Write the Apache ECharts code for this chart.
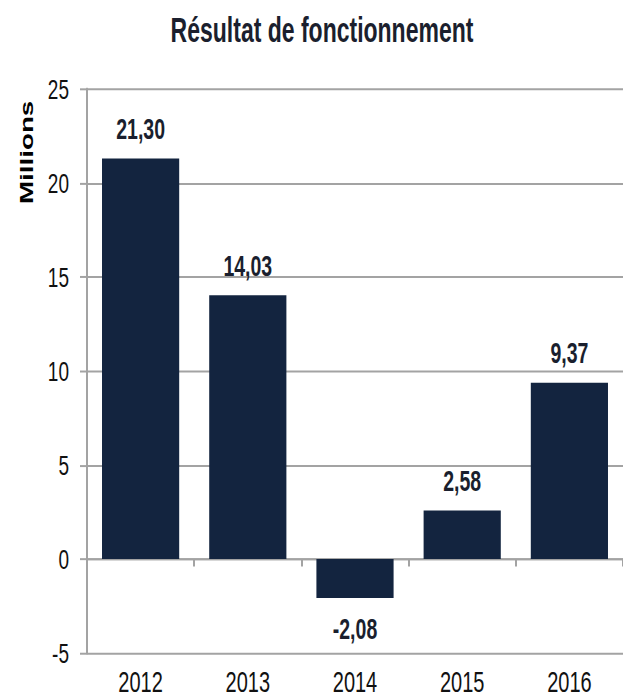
<!DOCTYPE html>
<html><head><meta charset="utf-8">
<script src="https://cdn.jsdelivr.net/npm/echarts@6/dist/echarts.min.js"></script>
<style>
html,body{margin:0;padding:0;background:#fff;overflow:hidden}
#wrap{width:623px;height:698px;overflow:hidden}
#c{width:623px;height:465px;transform-origin:0 0;transform:scaleY(1.50108)}
</style>
</head><body><div id="wrap"><div id="c"></div></div>
<script>
const categories = ['2012','2013','2014','2015','2016'];
const values = [21.30, 14.03, -2.08, 2.58, 9.37];
const yMin = -5, yMax = 25, yInterval = 5;
const titleText = 'Résultat de fonctionnement';
const yName = 'Millions';

const FONT = '"Liberation Sans", Arial, sans-serif';
const GRID = '#a3a3a3';
const chart = echarts.init(document.getElementById('c'), null, {renderer: 'svg'});
chart.setOption({
  backgroundColor: '#fff',
  animation: false,
  title: {text: titleText, left: 317, top: 3.5, textAlign: 'center',
    textStyle: {fontFamily: FONT, fontSize: 23, fontWeight: 'bold', color: '#1b1f2e'}},
  graphic: [{type: 'text', x: 27, y: 101.5, rotation: Math.PI / 2,
    style: {text: yName, fontFamily: FONT, fontSize: 18.5, fontWeight: 'bold', fill: '#000',
      textAlign: 'center', textVerticalAlign: 'middle'}}],
  grid: {left: 87, top: 59.3, bottom: 30, right: -4, containLabel: false},
  xAxis: [
    {type: 'category', data: categories, position: 'bottom',
      axisLine: {onZero: true, lineStyle: {color: GRID, width: 1.33}},
      axisTick: {show: true, length: 5, lineStyle: {color: GRID, width: 2}},
      axisLabel: {show: false}},
    {type: 'category', data: categories, position: 'bottom',
      axisLine: {show: false, onZero: false}, axisTick: {show: false},
      axisLabel: {margin: 9, fontFamily: FONT, fontSize: 20, color: '#111'}}
  ],
  yAxis: {type: 'value', min: yMin, max: yMax, interval: yInterval,
    axisLine: {show: true, lineStyle: {color: GRID, width: 2}},
    axisTick: {show: true, length: 7, lineStyle: {color: GRID, width: 1.33}},
    axisLabel: {margin: 18, fontFamily: FONT, fontSize: 19, color: '#111'},
    splitLine: {lineStyle: {color: GRID, width: 1.33}}},
  series: [{type: 'bar', xAxisIndex: 0, barWidth: '72%',
    itemStyle: {color: '#13243f'},
    data: values.map(v => ({value: v, label: {position: v >= 0 ? 'top' : 'bottom'}})),
    label: {show: true, distance: 10, fontFamily: FONT, fontSize: 19.5, fontWeight: 'bold', color: '#1a1f2e',
      formatter: p => p.value.toFixed(2).replace('.', ',')}}]
});
</script></body></html>
